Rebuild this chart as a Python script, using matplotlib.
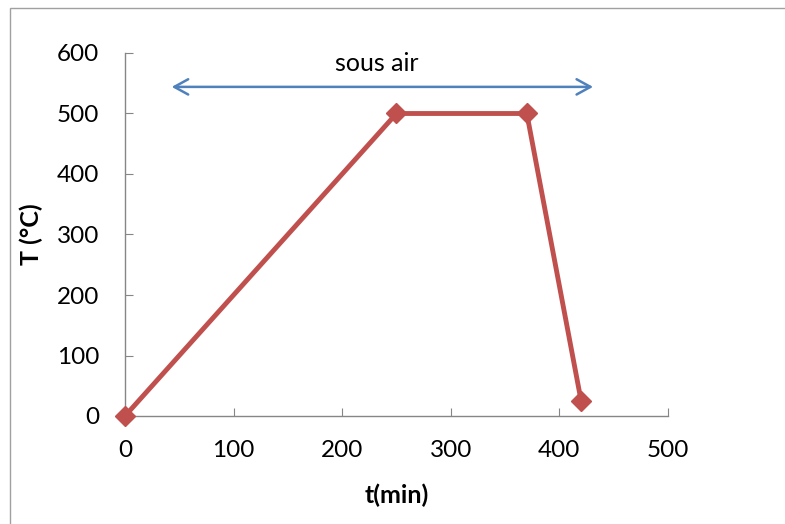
import matplotlib
matplotlib.use("Agg")
import matplotlib.pyplot as plt
from matplotlib.patches import Rectangle

time_min = [0, 250, 370, 420]
temp_c = [0, 500, 500, 25]
x_ticks = [0, 100, 200, 300, 400, 500]
y_ticks = [0, 100, 200, 300, 400, 500, 600]
arrow_span = [43, 431]
arrow_level = 544
label_text = "sous air"

plt.rcParams['font.family'] = ['Lato', 'DejaVu Sans']

W, H = 785, 524
fig = plt.figure(figsize=(W / 100, H / 100), dpi=100)
ax = fig.add_axes([125 / W, (H - 416) / H, (668 - 125) / W, (416 - 53) / H])

ax.plot(time_min, temp_c, color='#C0504D', lw=3.5, marker='D', markersize=10,
        markerfacecolor='#C0504D', markeredgecolor='#C0504D', clip_on=False, zorder=3)

ax.annotate('', xy=(arrow_span[0], arrow_level), xytext=(arrow_span[1], arrow_level),
            arrowprops=dict(arrowstyle='<->,head_length=1.0,head_width=0.55',
                            color='#4F81BD', lw=1.8, shrinkA=0, shrinkB=0))
ax.text(232, 583, label_text, ha='center', va='center', fontsize=18, color='black')

ax.set_xlim(0, 500)
ax.set_ylim(0, 600)
ax.set_xticks(x_ticks)
ax.set_yticks(y_ticks)
for s in ['top', 'right']:
    ax.spines[s].set_visible(False)
for s in ['left', 'bottom']:
    ax.spines[s].set_color('#868686')
    ax.spines[s].set_linewidth(1.0)
ax.tick_params(axis='both', direction='in', length=6, color='#868686', labelsize=17.5)
ax.tick_params(axis='x', pad=17.5)
ax.tick_params(axis='y', pad=18.5)

ax.set_xlabel('t(min)', fontsize=18, fontweight='bold', labelpad=16)
ax.set_ylabel('T (°C)', fontsize=18, fontweight='bold', labelpad=10)

fig.patches.append(Rectangle((10 / W, -0.1), 1.2, (H - 8) / H + 0.1,
                             transform=fig.transFigure, fill=False,
                             edgecolor='#A0A0A0', lw=1.0))

fig.savefig('out.png', dpi=100)
